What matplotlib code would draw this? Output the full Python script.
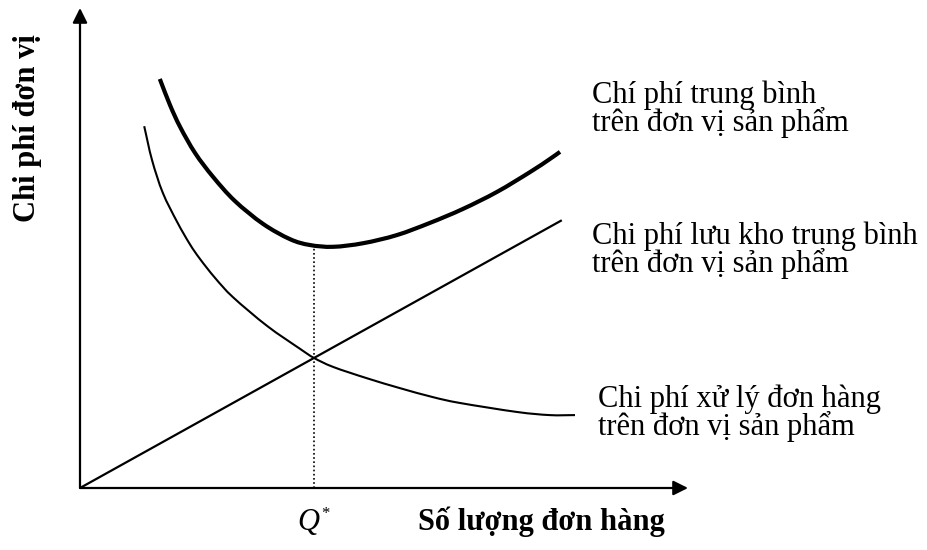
import matplotlib
matplotlib.use("Agg")
import matplotlib.pyplot as plt
from matplotlib.path import Path
from matplotlib.patches import PathPatch
import numpy as np

# ---- data (x = order quantity, y = unit cost) ----
total_x = [13.3, 15.0, 16.7, 19.2, 22.2, 25.8, 30.5, 35.0, 38.3, 42.2,
           47.2, 52.8, 58.3, 63.8, 69.5, 75.0, 78.3, 80.0]
total_y = [90.9, 85.1, 80.2, 74.4, 69.1, 63.8, 58.7, 55.3, 54.0, 53.6,
           54.4, 56.2, 58.9, 62.0, 65.8, 70.2, 73.1, 74.7]

order_x = [10.7, 12.0, 13.8, 16.2, 18.3, 20.0, 22.5, 25.5, 31.2, 36.7,
           39.0, 42.2, 47.8, 53.3, 58.8, 63.3, 72.8, 78.3, 82.5]
order_y = [80.4, 72.9, 65.6, 59.1, 54.2, 50.9, 46.7, 42.4, 36.0, 30.9,
           28.9, 26.9, 24.4, 22.2, 20.2, 18.9, 16.9, 16.2, 16.2]

holding_x = [0.0, 80.3]
holding_y = [0.0, 59.5]

q_star = 39.0
min_total = 53.6

labels_right = [
    ["Chí phí trung bình", "trên đơn vị sản phẩm"],
    ["Chi phí lưu kho trung bình", "trên đơn vị sản phẩm"],
    ["Chi phí xử lý đơn hàng", "trên đơn vị sản phẩm"],
]
xlabel = "Số lượng đơn hàng"
ylabel = "Chi phí đơn vị"

# ---- figure ----
W, H = 927, 550
fig = plt.figure(figsize=(W / 100, H / 100), dpi=100)
ax = fig.add_axes([0, 0, 1, 1])
ox, oy, sx, sy = 80, 488, 6.0, 4.5   # pixel origin and scale
ax.set_xlim(-ox / sx, (W - ox) / sx)
ax.set_ylim((oy - H) / sy, oy / sy)
ax.axis("off")

def fx(px):
    return px / W

def fy(py):
    return 1 - py / H

serif = ["Liberation Serif", "DejaVu Serif"]


def smooth_path(xs, ys):
    """Catmull-Rom curve through the points, as cubic Bezier segments."""
    p = np.column_stack([xs, ys]).astype(float)
    ext = np.vstack([2 * p[0] - p[1], p, 2 * p[-1] - p[-2]])
    verts = [tuple(p[0])]
    codes = [Path.MOVETO]
    for i in range(1, len(ext) - 2):
        p0, p1, p2, p3 = ext[i - 1], ext[i], ext[i + 1], ext[i + 2]
        c1 = p1 + (p2 - p0) / 6.0
        c2 = p2 - (p3 - p1) / 6.0
        verts += [tuple(c1), tuple(c2), tuple(p2)]
        codes += [Path.CURVE4] * 3
    return Path(verts, codes)


# axes with arrows
ax.annotate("", xy=(0, (oy - 8) / sy), xytext=(0, 0),
            arrowprops=dict(arrowstyle="-|>", lw=1.6, color="black",
                            mutation_scale=22, shrinkA=0, shrinkB=0))
ax.annotate("", xy=((688 - ox) / sx, 0), xytext=(0, 0),
            arrowprops=dict(arrowstyle="-|>", lw=1.6, color="black",
                            mutation_scale=22, shrinkA=0, shrinkB=0))

# curves
ax.add_patch(PathPatch(smooth_path(total_x, total_y), fill=False, lw=3.0,
                       edgecolor="black", capstyle="butt", joinstyle="round"))
ax.add_patch(PathPatch(smooth_path(order_x, order_y), fill=False, lw=1.5,
                       edgecolor="black", capstyle="butt", joinstyle="round"))
ax.plot(holding_x, holding_y, color="black", lw=1.6, solid_capstyle="butt")
ax.plot([q_star, q_star], [0, min_total], color="black", lw=1.2, linestyle=(0, (1, 1.5)))

# right labels (line baselines in pixels)
fs = 22
label_pos = [(592, 103, 131), (592, 244, 272), (598, 407, 435)]
for (lx, b1, b2), lines in zip(label_pos, labels_right):
    fig.text(fx(lx), fy(b1), lines[0], family=serif, fontsize=fs, ha="left", va="baseline")
    fig.text(fx(lx), fy(b2), lines[1], family=serif, fontsize=fs, ha="left", va="baseline")

# axis labels
fig.text(fx(418), fy(530), xlabel, family=serif, fontsize=fs, fontweight="bold",
         ha="left", va="baseline")
fig.text(fx(28), fy(128), ylabel, family=serif, fontsize=fs, fontweight="bold",
         ha="center", va="center", rotation=90)
fig.text(fx(297), fy(530), "Q", family=serif, fontsize=fs, style="italic",
         ha="left", va="baseline")
fig.text(fx(321), fy(518), "*", family=serif, fontsize=12,
         ha="left", va="baseline")

fig.savefig("out.png", dpi=100)
